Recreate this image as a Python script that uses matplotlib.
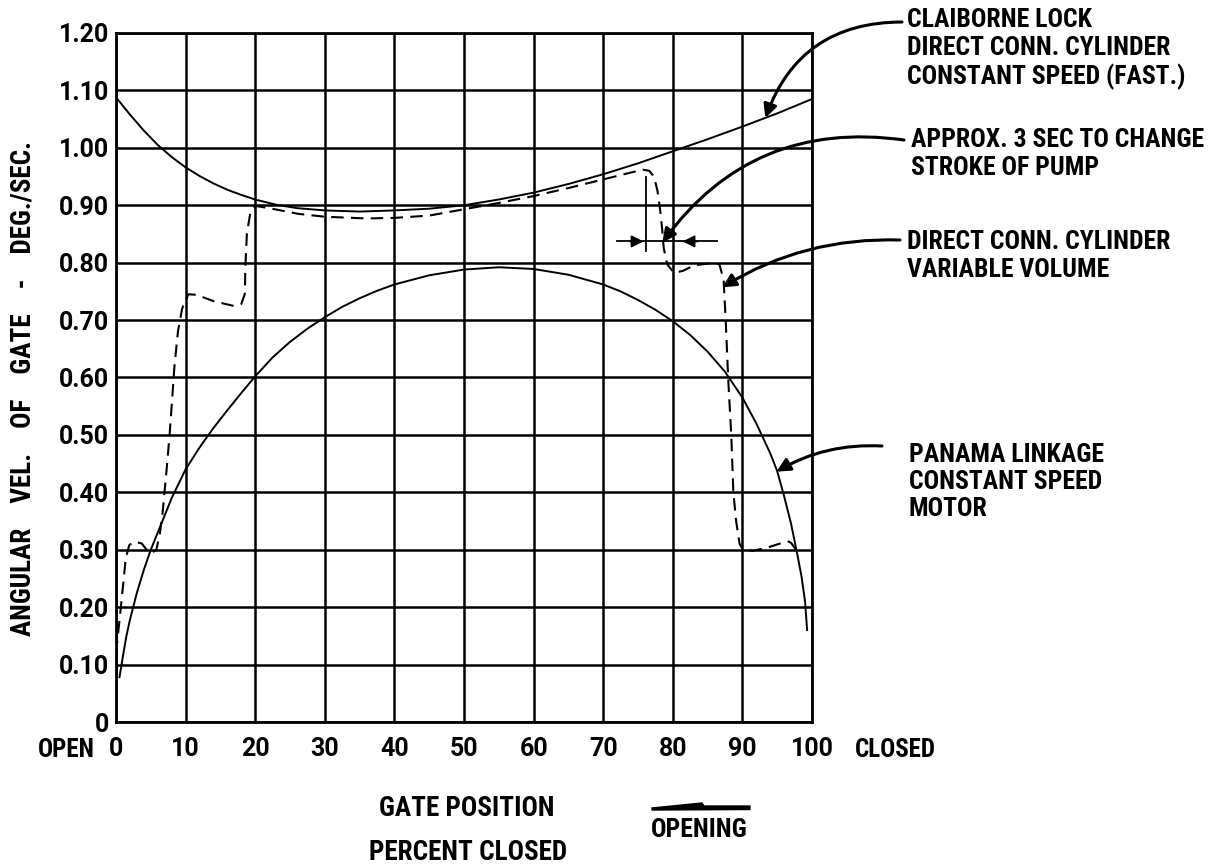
#gate angular velocity vs gate position - three drive schemes

import matplotlib.pyplot as plt
from matplotlib.patches import Polygon

#----------------------------------------------------------------------------------

#claiborne lock, direct conn. cylinder, constant speed (fast)
claiborne_x = [0, 2, 4, 6, 8, 10, 12, 14, 16, 18, 20, 23, 26, 30, 35, 40, 45, 50,
               55, 60, 65, 70, 75, 80, 85, 90, 95, 100]
claiborne_y = [1.088, 1.058, 1.030, 1.005, 0.984, 0.966, 0.951, 0.938, 0.927, 0.918,
               0.910, 0.901, 0.895, 0.891, 0.889, 0.891, 0.894, 0.900, 0.910, 0.922,
               0.937, 0.954, 0.973, 0.994, 1.015, 1.037, 1.060, 1.085]

#panama linkage, constant speed motor
panama_x = [0.5, 1, 1.5, 2, 3, 4, 5, 6.5, 8, 10, 12, 14, 16, 18, 20, 22.5, 25, 27.5,
            30, 32.5, 35, 37.5, 40, 45, 50, 55, 60, 65, 70, 72.5, 75, 77.5, 80, 82.5,
            85, 87.5, 90, 92, 94, 95, 96, 97, 97.5, 98, 98.5, 99, 99.3]
panama_y = [0.078, 0.115, 0.150, 0.178, 0.225, 0.265, 0.300, 0.345, 0.390, 0.440,
            0.478, 0.512, 0.543, 0.573, 0.602, 0.635, 0.662, 0.685, 0.705, 0.723,
            0.738, 0.751, 0.762, 0.778, 0.788, 0.792, 0.789, 0.779, 0.762, 0.750,
            0.735, 0.718, 0.698, 0.674, 0.645, 0.610, 0.565, 0.520, 0.468, 0.437,
            0.393, 0.345, 0.315, 0.285, 0.253, 0.210, 0.160]

#direct conn. cylinder, variable volume (dashed)
variable_x = [0, 0.7, 1.4, 1.9, 2.6, 3.7, 4.4, 5.1, 5.8, 6.3, 6.7, 7.2, 7.7, 8.4, 8.9,
              9.5, 10.4, 11.6, 14, 16.8, 18.0, 18.5, 18.6, 18.8, 19.3, 20, 22.4, 26.2,
              30, 36, 40, 45, 50, 55, 60, 65, 70, 74, 75.7, 76.6, 77.3, 77.8, 78.2,
              78.5, 78.7, 79.2, 80.2, 81.5, 83, 85.9, 86.7, 87.3, 87.6, 87.95, 88.4,
              88.7, 89.1, 89.6, 90.1, 91.5, 93.9, 96.5, 97.0, 97.7]
variable_y = [0.12, 0.20, 0.285, 0.308, 0.314, 0.311, 0.300, 0.294, 0.300, 0.328, 0.365,
              0.43, 0.50, 0.62, 0.68, 0.72, 0.745, 0.744, 0.733, 0.725, 0.728, 0.745,
              0.795, 0.85, 0.887, 0.899, 0.894, 0.885, 0.880, 0.877, 0.878, 0.882,
              0.893, 0.904, 0.916, 0.930, 0.945, 0.957, 0.962, 0.960, 0.950, 0.925,
              0.89, 0.855, 0.825, 0.797, 0.782, 0.786, 0.795, 0.800, 0.797, 0.77, 0.70,
              0.60, 0.50, 0.40, 0.35, 0.31, 0.300, 0.298, 0.305, 0.315, 0.312, 0.300]

x_ticks = [0, 10, 20, 30, 40, 50, 60, 70, 80, 90, 100]
x_tick_labels = ["0", "10", "20", "30", "40", "50", "60", "70", "80", "90", "100"]
y_ticks = [0, 0.1, 0.2, 0.3, 0.4, 0.5, 0.6, 0.7, 0.8, 0.9, 1.0, 1.1, 1.2]
y_tick_labels = ["0", "0.10", "0.20", "0.30", "0.40", "0.50", "0.60", "0.70",
                 "0.80", "0.90", "1.00", "1.10", "1.20"]

#pump stroke change marker (gate position, velocity)
stroke_start = 76.2
stroke_end = 81.0
stroke_level = 0.837

#----------------------------------------------------------------------------------

W, H = 1214, 867
plt.rcParams['font.family'] = ['Roboto Condensed', 'Roboto', 'DejaVu Sans']
plt.rcParams['font.weight'] = 'bold'
wide = ['Roboto', 'DejaVu Sans']

fig = plt.figure(figsize=(W / 100, H / 100), dpi=100)
ax = fig.add_axes([116 / W, 1 - 722 / H, (812 - 116) / W, (722 - 33) / H])

#pixel position in the picture -> figure fraction
def fx(px):
    return px / W

def fy(py):
    return 1 - py / H

ax.plot(claiborne_x, claiborne_y, color="black", linewidth=1.4, zorder=3)
ax.plot(panama_x, panama_y, color="black", linewidth=1.4, zorder=3)
ax.plot(variable_x, variable_y, color="black", linewidth=1.5, linestyle=(0, (6, 3.5)), zorder=3)

ax.set_xlim(0, 100)
ax.set_ylim(0, 1.2)
ax.set_xticks(x_ticks)
ax.set_xticklabels(x_tick_labels, family=wide, fontsize=18)
ax.set_yticks(y_ticks)
ax.set_yticklabels(y_tick_labels, family=wide, fontsize=18)
ax.tick_params(length=0)
ax.tick_params(axis="x", pad=11)
ax.tick_params(axis="y", pad=5)
ax.grid(color="black", linewidth=1.8)
for s in ax.spines.values():
    s.set_linewidth(2)

#stroke change marker
ax.plot([72, 86.3], [stroke_level, stroke_level], color="black", linewidth=1.3, zorder=3)
ax.plot([stroke_start, stroke_start], [0.82, 0.95], color="black", linewidth=1.3, zorder=3)
ax.annotate("", xy=(stroke_start, stroke_level), xytext=(73.5, stroke_level),
            arrowprops=dict(arrowstyle="-|>", color="black", lw=1.3, mutation_scale=18))
ax.annotate("", xy=(stroke_end, stroke_level), xytext=(84.0, stroke_level),
            arrowprops=dict(arrowstyle="-|>", color="black", lw=1.3, mutation_scale=18))

#----------------------------------------------------------------------------------

#callouts
txt = dict(fontsize=18.5, ha="left", va="center", transform=fig.transFigure, linespacing=1.17)
fig.text(fx(907), fy(49), "CLAIBORNE LOCK\nDIRECT CONN. CYLINDER\nCONSTANT SPEED (FAST.)", **txt)
fig.text(fx(911), fy(154), "APPROX. 3 SEC TO CHANGE\nSTROKE OF PUMP", **txt)
fig.text(fx(907), fy(256), "DIRECT CONN. CYLINDER\nVARIABLE VOLUME", **txt)
fig.text(fx(909), fy(482), "PANAMA LINKAGE\nCONSTANT SPEED\nMOTOR", **txt)

arrow = dict(arrowstyle="-|>", color="black", lw=2.2, mutation_scale=20, shrinkA=0, shrinkB=0)
ax.annotate("", xy=(93.3, 1.052), xytext=(fx(902), fy(22)), textcoords="figure fraction",
            arrowprops=dict(connectionstyle="arc3,rad=0.35", **arrow))
ax.annotate("", xy=(78.5, 0.835), xytext=(fx(904), fy(140)), textcoords="figure fraction",
            arrowprops=dict(connectionstyle="arc3,rad=0.3", **arrow))
ax.annotate("", xy=(87.1, 0.757), xytext=(fx(900), fy(240)), textcoords="figure fraction",
            arrowprops=dict(connectionstyle="arc3,rad=0.15", **arrow))
ax.annotate("", xy=(94.9, 0.436), xytext=(fx(882), fy(446)), textcoords="figure fraction",
            arrowprops=dict(connectionstyle="arc3,rad=0.15", **arrow))

#----------------------------------------------------------------------------------

#axis titles
fig.text(fx(23), fy(388), "ANGULAR    VEL.    OF    GATE    -    DEG./SEC.", fontsize=19.5,
         rotation=90, ha="center", va="center")
fig.text(fx(95), fy(750), "OPEN", fontsize=18, ha="right", va="center")
fig.text(fx(855), fy(750), "CLOSED", fontsize=18, ha="left", va="center")
fig.text(fx(467), fy(808), "GATE POSITION", fontsize=19.5, ha="center", va="center")
fig.text(fx(468), fy(852), "PERCENT CLOSED", fontsize=19.5, ha="center", va="center")
fig.text(fx(699), fy(830), "OPENING", fontsize=18.5, ha="center", va="center")

#opening direction arrow
fig.add_artist(Polygon([(fx(652), fy(808)), (fx(702), fy(803)), (fx(704), fy(806)),
                        (fx(750), fy(806)), (fx(750), fy(809.5)), (fx(652), fy(810))],
                       closed=True, color="black", transform=fig.transFigure))

#----------------------------------------------------------------------------------

plt.savefig("out.png", dpi=100)
